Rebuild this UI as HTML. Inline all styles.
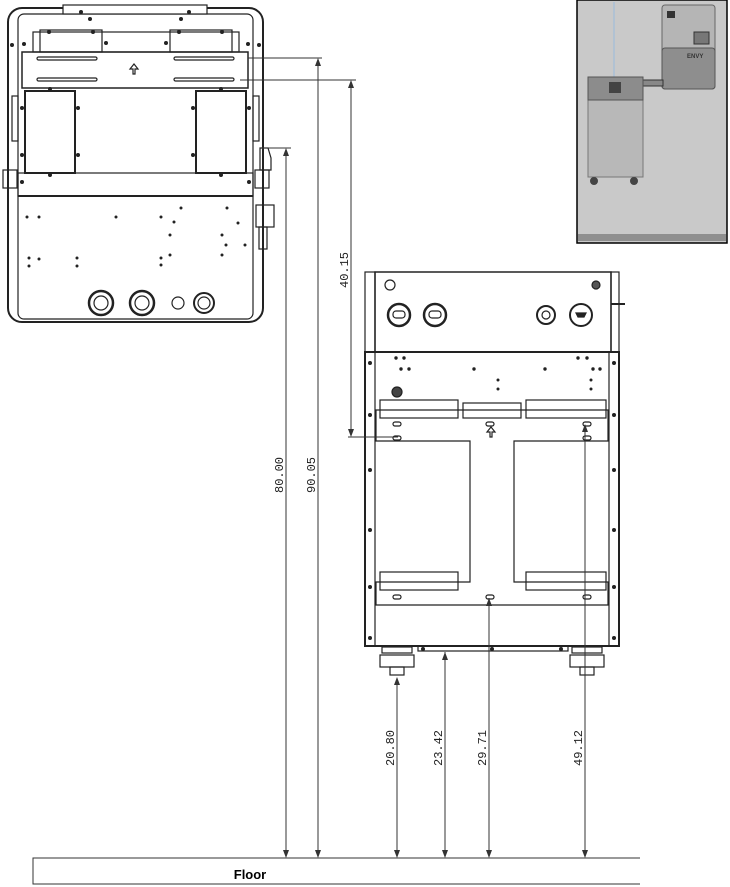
<!DOCTYPE html>
<html><head><meta charset="utf-8"><style>
html,body{margin:0;padding:0;background:#fff;}
svg{display:block;}
text{font-family:"Liberation Mono",monospace;font-size:12px;fill:#222;}
</style></head><body>
<svg width="730" height="887" viewBox="0 0 730 887" xmlns="http://www.w3.org/2000/svg">
<g fill="none" stroke="#222" stroke-width="1.2">
<rect x="8" y="8" width="255" height="314" rx="14" stroke-width="2"/>
<rect x="18" y="14" width="235" height="305" rx="6"/>
<rect x="63" y="5" width="144" height="9" fill="#fff"/>
<rect x="33" y="32" width="206" height="20"/>
<rect x="40" y="30" width="62" height="22"/>
<rect x="170" y="30" width="62" height="22"/>
<rect x="22" y="52" width="226" height="36" stroke-width="1.5"/>
<rect x="37" y="57" width="60" height="3" rx="1.5"/>
<rect x="37" y="78" width="60" height="3" rx="1.5"/>
<rect x="174" y="57" width="60" height="3" rx="1.5"/>
<rect x="174" y="78" width="60" height="3" rx="1.5"/>
<path d="M133,74 v-5 h-3 l4,-5 l4,5 h-3 v5 z"/>
<rect x="25" y="91" width="50" height="82" stroke-width="2"/>
<rect x="196" y="91" width="50" height="82" stroke-width="2"/>
<rect x="18" y="173" width="235" height="23"/>
<rect x="3" y="170" width="14" height="18"/>
<rect x="255" y="170" width="14" height="18"/>
<rect x="12" y="96" width="6" height="45"/>
<rect x="253" y="96" width="6" height="45"/>
<path d="M260,148 h8 l3,10 v12 h-11 z"/>
<rect x="256" y="205" width="18" height="22"/>
<rect x="259" y="227" width="8" height="22"/>
<line x1="18" y1="196" x2="253" y2="196" stroke-width="2"/>
<circle cx="101" cy="303" r="12" stroke-width="2.5"/><circle cx="101" cy="303" r="7"/>
<circle cx="142" cy="303" r="12" stroke-width="2.5"/><circle cx="142" cy="303" r="7"/>
<circle cx="178" cy="303" r="6"/>
<circle cx="204" cy="303" r="10" stroke-width="2"/><circle cx="204" cy="303" r="6"/>
<rect x="365" y="272" width="10" height="80"/>
<rect x="375" y="272" width="236" height="80" stroke-width="1.5"/>
<rect x="611" y="272" width="8" height="80"/>
<line x1="611" y1="304" x2="625" y2="304" stroke-width="2"/>
<circle cx="390" cy="285" r="5"/>
<circle cx="399" cy="315" r="11" stroke-width="2.5"/><rect x="393" y="311" width="12" height="7" rx="3"/>
<circle cx="435" cy="315" r="11" stroke-width="2.5"/><rect x="429" y="311" width="12" height="7" rx="3"/>
<circle cx="546" cy="315" r="9" stroke-width="2"/><circle cx="546" cy="315" r="4"/>
<circle cx="581" cy="315" r="11" stroke-width="2"/><path d="M576,313 h10 l-2,4 h-6z" fill="#222"/>
<circle cx="596" cy="285" r="4" fill="#555"/>
<rect x="365" y="352" width="254" height="294" stroke-width="2"/>
<rect x="375" y="352" width="234" height="294"/>
<path d="M376,410 H608 V441 H514 V582 H608 V605 H376 V582 H470 V441 H376 Z"/>
<rect x="380" y="400" width="78" height="18"/>
<rect x="463" y="403" width="58" height="15"/>
<rect x="526" y="400" width="80" height="18"/>
<rect x="380" y="572" width="78" height="18"/>
<rect x="526" y="572" width="80" height="18"/>
<rect x="393" y="422" width="8" height="4" rx="2"/>
<rect x="393" y="436" width="8" height="4" rx="2"/>
<rect x="486" y="422" width="8" height="4" rx="2"/>
<rect x="583" y="422" width="8" height="4" rx="2"/>
<rect x="583" y="436" width="8" height="4" rx="2"/>
<rect x="393" y="595" width="8" height="4" rx="2"/>
<rect x="486" y="595" width="8" height="4" rx="2"/>
<rect x="583" y="595" width="8" height="4" rx="2"/>
<path d="M490,437 v-5 h-3 l4,-5 l4,5 h-3 v5 z"/>
<circle cx="397" cy="392" r="5" fill="#444"/>
<rect x="418" y="646" width="150" height="5"/>
<rect x="382" y="647" width="30" height="6"/><rect x="380" y="655" width="34" height="12"/><rect x="390" y="667" width="14" height="8"/>
<rect x="572" y="647" width="30" height="6"/><rect x="570" y="655" width="34" height="12"/><rect x="580" y="667" width="14" height="8"/>
</g>
<g fill="#222">
<circle cx="81" cy="12" r="2"/><circle cx="189" cy="12" r="2"/>
<circle cx="90" cy="19" r="2"/><circle cx="181" cy="19" r="2"/>
<circle cx="12" cy="45" r="2"/><circle cx="24" cy="44" r="2"/><circle cx="106" cy="43" r="2"/><circle cx="166" cy="43" r="2"/><circle cx="248" cy="44" r="2"/><circle cx="259" cy="45" r="2"/>
<circle cx="49" cy="32" r="2"/><circle cx="93" cy="32" r="2"/><circle cx="179" cy="32" r="2"/><circle cx="222" cy="32" r="2"/>
<circle cx="50" cy="89" r="2"/><circle cx="221" cy="89" r="2"/><circle cx="22" cy="108" r="2"/><circle cx="78" cy="108" r="2"/><circle cx="193" cy="108" r="2"/><circle cx="249" cy="108" r="2"/>
<circle cx="22" cy="155" r="2"/><circle cx="78" cy="155" r="2"/><circle cx="193" cy="155" r="2"/><circle cx="50" cy="175" r="2"/><circle cx="221" cy="175" r="2"/>
<circle cx="22" cy="182" r="2"/><circle cx="249" cy="182" r="2"/>
<circle cx="27" cy="217" r="1.5"/><circle cx="39" cy="217" r="1.5"/><circle cx="116" cy="217" r="1.5"/><circle cx="161" cy="217" r="1.5"/><circle cx="181" cy="208" r="1.5"/><circle cx="227" cy="208" r="1.5"/><circle cx="174" cy="222" r="1.5"/><circle cx="238" cy="223" r="1.5"/><circle cx="170" cy="235" r="1.5"/><circle cx="222" cy="235" r="1.5"/><circle cx="226" cy="245" r="1.5"/><circle cx="245" cy="245" r="1.5"/><circle cx="170" cy="255" r="1.5"/><circle cx="222" cy="255" r="1.5"/>
<circle cx="29" cy="258" r="1.5"/><circle cx="39" cy="259" r="1.5"/><circle cx="77" cy="258" r="1.5"/><circle cx="77" cy="266" r="1.5"/><circle cx="29" cy="266" r="1.5"/><circle cx="161" cy="258" r="1.5"/><circle cx="161" cy="265" r="1.5"/>
<circle cx="370" cy="363" r="2"/><circle cx="370" cy="415" r="2"/><circle cx="370" cy="470" r="2"/><circle cx="370" cy="530" r="2"/><circle cx="370" cy="587" r="2"/><circle cx="370" cy="638" r="2"/>
<circle cx="614" cy="363" r="2"/><circle cx="614" cy="415" r="2"/><circle cx="614" cy="470" r="2"/><circle cx="614" cy="530" r="2"/><circle cx="614" cy="587" r="2"/><circle cx="614" cy="638" r="2"/>
<circle cx="396" cy="358" r="1.7"/><circle cx="404" cy="358" r="1.7"/><circle cx="578" cy="358" r="1.7"/><circle cx="587" cy="358" r="1.7"/>
<circle cx="401" cy="369" r="1.7"/><circle cx="409" cy="369" r="1.7"/><circle cx="474" cy="369" r="1.7"/><circle cx="545" cy="369" r="1.7"/><circle cx="593" cy="369" r="1.7"/><circle cx="600" cy="369" r="1.7"/>
<circle cx="498" cy="380" r="1.5"/><circle cx="498" cy="389" r="1.5"/><circle cx="591" cy="380" r="1.5"/><circle cx="591" cy="389" r="1.5"/>
<circle cx="423" cy="649" r="2"/><circle cx="492" cy="649" r="2"/><circle cx="561" cy="649" r="2"/>
</g>
<g stroke="#333" stroke-width="1">
<line x1="262" y1="148" x2="291" y2="148"/>
<line x1="248" y1="58" x2="322" y2="58"/>
<line x1="240" y1="80" x2="356" y2="80"/>
<line x1="348" y1="437" x2="398" y2="437"/>
<line x1="286" y1="150" x2="286" y2="856"/>
<line x1="318" y1="60" x2="318" y2="856"/>
<line x1="351" y1="82" x2="351" y2="434"/>
<line x1="397" y1="678" x2="397" y2="856"/>
<line x1="445" y1="652" x2="445" y2="856"/>
<line x1="489" y1="598" x2="489" y2="856"/>
<line x1="585" y1="425" x2="585" y2="856"/>
</g>
<g fill="#333">
<path d="M283,156 L286,148 L289,156Z"/><path d="M283,850 L286,858 L289,850Z"/>
<path d="M315,66 L318,58 L321,66Z"/><path d="M315,850 L318,858 L321,850Z"/>
<path d="M348,88 L351,80 L354,88Z"/><path d="M348,429 L351,437 L354,429Z"/>
<path d="M394,685 L397,677 L400,685Z"/><path d="M394,850 L397,858 L400,850Z"/>
<path d="M442,660 L445,652 L448,660Z"/><path d="M442,850 L445,858 L448,850Z"/>
<path d="M486,606 L489,598 L492,606Z"/><path d="M486,850 L489,858 L492,850Z"/>
<path d="M582,432 L585,424 L588,432Z"/><path d="M582,850 L585,858 L588,850Z"/>
</g>
<text transform="translate(283,475) rotate(-90)" text-anchor="middle">80.00</text>
<text transform="translate(315,475) rotate(-90)" text-anchor="middle">90.05</text>
<text transform="translate(348,270) rotate(-90)" text-anchor="middle">40.15</text>
<text transform="translate(394,748) rotate(-90)" text-anchor="middle">20.80</text>
<text transform="translate(442,748) rotate(-90)" text-anchor="middle">23.42</text>
<text transform="translate(486,748) rotate(-90)" text-anchor="middle">29.71</text>
<text transform="translate(582,748) rotate(-90)" text-anchor="middle">49.12</text>
<path d="M640,858 H33 V884 H640" fill="none" stroke="#333" stroke-width="1"/>
<text x="250" y="879" text-anchor="middle" style="font-family:'Liberation Sans',sans-serif;font-weight:bold;font-size:13px;fill:#000">Floor</text>
<rect x="577" y="0" width="150" height="243" fill="#c9c9c9" stroke="#000" stroke-width="1.5"/>
<rect x="578" y="234" width="148" height="7" fill="#8f8f8f"/>
<line x1="614" y1="2" x2="614" y2="77" stroke="#a9bfd6" stroke-width="1.5"/>
<rect x="662" y="5" width="53" height="84" rx="3" fill="#b5b5b5" stroke="#666"/>
<rect x="662" y="48" width="53" height="41" rx="3" fill="#8e8e8e" stroke="#555"/>
<rect x="667" y="11" width="8" height="7" fill="#333"/>
<rect x="694" y="32" width="15" height="12" fill="#777" stroke="#333"/>
<text x="687" y="58" style="font-size:6px;font-family:'Liberation Sans',sans-serif;font-weight:bold;fill:#333">ENVY</text>
<rect x="643" y="80" width="20" height="6" fill="#888" stroke="#333"/>
<rect x="588" y="77" width="55" height="100" fill="#b8b8b8" stroke="#777"/>
<rect x="588" y="77" width="55" height="23" fill="#8c8c8c" stroke="#555"/>
<rect x="609" y="82" width="12" height="11" fill="#444"/>
<circle cx="594" cy="181" r="4" fill="#444"/><circle cx="634" cy="181" r="4" fill="#444"/>
</svg>
</body></html>
